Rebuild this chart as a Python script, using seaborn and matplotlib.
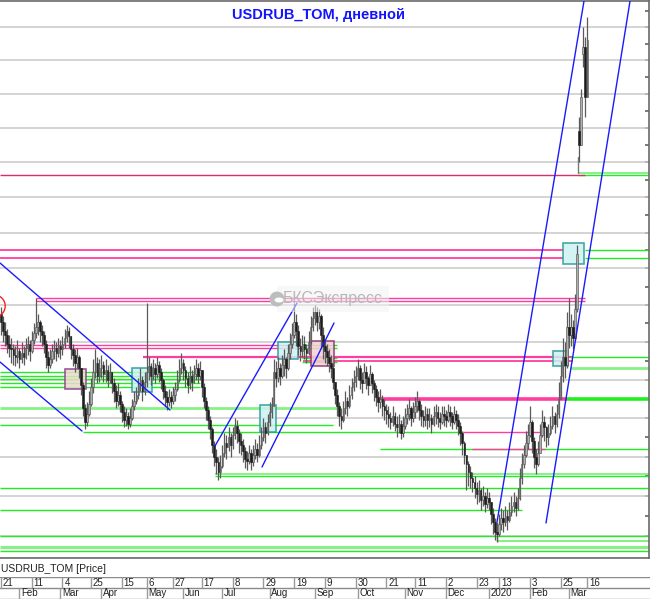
import numpy as np
import pandas as pd
import matplotlib
matplotlib.use("Agg")
import matplotlib.pyplot as plt
from matplotlib.patches import Rectangle, Ellipse
import seaborn as sns

sns.set_theme(style="white")
plt.rcParams['font.family'] = ['Liberation Sans', 'DejaVu Sans']

# ---------------- data ----------------
holidays = ["2019-03-08", "2019-05-01", "2019-05-02", "2019-05-03", "2019-05-09", "2019-05-10",
            "2019-06-12", "2019-11-04", "2019-12-31", "2020-01-01", "2020-01-02", "2020-01-07",
            "2020-02-24", "2020-03-09"]

close = [66.55, 66.30, 66.20, 65.95, 65.85, 65.80, 65.65, 65.60, 65.75, 65.55,
         65.70, 65.60, 65.85, 65.95, 65.75, 66.05, 66.25, 66.40, 66.55, 66.30,
         66.20, 65.95, 65.60, 65.40, 65.55, 65.75, 65.85, 65.70, 65.90, 65.80,
         65.95, 66.10, 66.30, 66.15, 65.80, 65.65, 65.45, 65.60, 65.30,
         64.85, 64.25, 63.90, 64.10, 64.35, 64.80, 65.20, 65.45, 65.10, 65.30,
         65.40, 65.15, 65.25, 65.00, 65.20, 64.90, 64.70, 64.45, 64.60, 64.35,
         64.15, 63.95, 64.05, 63.85, 64.00, 64.30, 64.45, 64.60, 64.85, 65.00,
         64.70, 64.95, 65.20, 65.35, 65.10,
         65.30, 65.15, 65.40, 65.20, 65.00, 64.70, 64.55, 64.40, 64.55, 64.45,
         64.60, 64.75, 65.00, 65.30, 65.45, 65.25, 65.05, 64.85, 65.10, 64.95,
         65.15, 65.30, 65.10, 65.25, 64.80, 64.45, 64.20, 63.95, 63.70,
         63.30, 63.00, 62.85, 62.60, 62.75, 63.10, 63.35, 63.25, 63.50, 63.30,
         63.55, 63.80, 63.60, 63.40, 63.30, 63.15, 62.95, 62.90, 63.10, 62.85,
         63.05, 63.20, 63.05, 63.30, 63.50, 63.75, 63.60, 63.90, 64.15, 64.30,
         65.20, 65.05, 65.30, 65.10, 65.40, 65.55, 65.30, 65.70, 65.95, 66.20,
         66.55, 66.30, 65.90, 65.75, 65.95, 65.80, 65.70, 66.00, 66.40, 66.65,
         66.80, 66.55, 66.70, 66.20, 65.90, 65.75, 65.60, 65.45, 65.30, 64.95,
         64.60, 64.30, 64.05, 63.95, 64.25, 64.45, 64.30, 64.60, 64.80, 64.95,
         65.10, 65.30, 65.00, 64.90, 65.20, 65.05, 64.85, 65.15, 64.90, 64.75,
         64.55, 64.40, 64.50, 64.30, 64.20, 64.10, 64.00, 63.90, 64.05, 63.85,
         63.75, 63.85, 63.60, 63.80, 64.00, 64.10, 64.25, 64.00, 64.15,
         64.30, 64.45, 64.20, 64.05, 63.95, 64.10, 63.95, 64.00, 63.85, 64.05,
         64.15, 64.00, 63.90, 64.10, 64.05, 63.95, 64.15, 64.05, 63.90, 64.10,
         63.95, 63.80, 63.60, 63.35, 63.05, 62.80, 62.60, 62.45, 62.35, 62.20,
         62.05, 62.15, 61.90, 62.00, 61.80, 61.95, 61.85, 61.55, 61.35, 61.10, 61.05,
         61.30, 61.45, 61.35, 61.50, 61.40, 61.60, 61.75, 61.85, 61.70, 61.95,
         62.45, 62.80, 63.05, 63.35, 63.55, 63.90, 63.40, 63.00, 62.80, 63.10,
         63.55, 63.90, 63.75, 63.50, 63.60, 63.80, 64.05, 63.85, 64.10, 64.50,
         65.10, 65.60, 65.40, 66.40, 66.20, 66.40, 66.10, 66.90, 68.40,
         71.50, 72.90, 74.40, 72.90, 74.60]

high = [66.95, 66.70, 66.55, 66.35, 66.20, 66.10, 65.95, 65.90, 66.05, 65.85,
        66.00, 65.90, 66.10, 66.15, 66.05, 66.30, 66.50, 67.20, 66.75, 66.60,
        66.45, 66.30, 66.05, 65.75, 65.80, 65.95, 66.05, 66.00, 66.10, 66.05,
        66.15, 66.35, 66.45, 66.40, 66.10, 65.95, 65.80, 65.85, 65.65,
        65.15, 64.95, 64.35, 64.40, 64.70, 65.05, 65.55, 65.80, 65.60, 65.55,
        65.65, 65.50, 65.55, 65.40, 65.45, 65.20, 65.05, 64.85, 64.90, 64.70,
        64.45, 64.30, 64.25, 64.15, 64.25, 64.50, 64.70, 64.80, 65.05, 65.30,
        65.10, 65.20, 67.05, 65.60, 65.45,
        65.55, 65.45, 65.60, 65.50, 65.30, 65.05, 64.85, 64.70, 64.75, 64.70,
        64.80, 64.95, 65.25, 65.55, 65.70, 65.55, 65.35, 65.20, 65.35, 65.25,
        65.40, 65.55, 65.45, 65.50, 65.20, 64.90, 64.55, 64.30, 64.05,
        63.75, 63.40, 63.20, 63.00, 63.05, 63.30, 63.60, 63.55, 63.75, 63.60,
        63.75, 64.00, 63.95, 63.70, 63.60, 63.45, 63.25, 63.15, 63.30, 63.20,
        63.30, 63.45, 63.35, 63.55, 63.75, 64.00, 63.90, 64.10, 64.40, 64.55,
        65.55, 65.50, 65.60, 65.45, 65.65, 65.80, 65.60, 65.95, 66.25, 66.50,
        67.05, 66.75, 66.45, 66.10, 66.20, 66.15, 65.95, 66.30, 66.70, 66.95,
        67.00, 66.95, 66.90, 66.75, 66.40, 66.05, 65.95, 65.80, 65.65, 65.45,
        64.95, 64.75, 64.40, 64.25, 64.45, 64.70, 64.55, 64.85, 65.05, 65.25,
        65.35, 65.55, 65.40, 65.20, 65.45, 65.35, 65.10, 65.40, 65.20, 65.00,
        64.85, 64.70, 64.75, 64.60, 64.50, 64.35, 64.30, 64.15, 64.30, 64.15,
        64.05, 64.10, 63.95, 64.05, 64.25, 64.35, 64.50, 64.30, 64.40,
        64.55, 64.70, 64.50, 64.35, 64.20, 64.30, 64.25, 64.25, 64.10, 64.30,
        64.35, 64.30, 64.15, 64.30, 64.30, 64.20, 64.35, 64.30, 64.15, 64.30,
        64.20, 64.10, 63.90, 63.65, 63.40, 63.05, 62.90, 62.75, 62.60, 62.50,
        62.35, 62.40, 62.20, 62.25, 62.10, 62.20, 62.10, 61.85, 61.70, 61.45, 61.35,
        61.55, 61.70, 61.65, 61.75, 61.65, 61.85, 62.00, 62.10, 62.00, 62.20,
        62.70, 63.10, 63.30, 63.65, 63.85, 64.30, 63.95, 63.50, 63.20, 63.40,
        63.85, 64.20, 64.05, 63.80, 63.85, 64.05, 64.30, 64.15, 64.35, 64.95,
        65.50, 66.10, 66.00, 66.80, 67.20, 66.75, 66.60, 67.30, 68.65,
        72.30, 73.15, 75.00, 74.70, 75.30]

low = [66.20, 66.00, 65.90, 65.70, 65.60, 65.45, 65.40, 65.35, 65.45, 65.30,
       65.45, 65.40, 65.55, 65.65, 65.50, 65.70, 65.95, 66.10, 66.20, 66.00,
       65.90, 65.70, 65.30, 65.20, 65.30, 65.45, 65.55, 65.50, 65.60, 65.55,
       65.65, 65.85, 66.00, 65.85, 65.55, 65.35, 65.20, 65.30, 65.05,
       64.60, 64.05, 63.70, 63.80, 64.05, 64.30, 64.65, 65.05, 64.90, 64.95,
       65.05, 64.95, 64.95, 64.80, 64.90, 64.65, 64.40, 64.25, 64.30, 64.15,
       63.90, 63.75, 63.80, 63.70, 63.75, 63.95, 64.20, 64.35, 64.50, 64.70,
       64.45, 64.60, 64.80, 65.00, 64.85,
       65.00, 64.90, 65.05, 64.95, 64.75, 64.50, 64.30, 64.20, 64.30, 64.25,
       64.35, 64.45, 64.70, 64.95, 65.15, 65.00, 64.80, 64.65, 64.75, 64.70,
       64.90, 65.00, 64.90, 65.00, 64.55, 64.25, 63.95, 63.70, 63.45,
       63.10, 62.75, 62.55, 62.40, 62.45, 62.70, 63.00, 62.95, 63.15, 63.00,
       63.20, 63.45, 63.35, 63.10, 63.05, 62.85, 62.70, 62.65, 62.80, 62.65,
       62.75, 62.95, 62.85, 63.00, 63.20, 63.40, 63.35, 63.55, 63.80, 64.00,
       64.60, 64.80, 64.95, 64.85, 65.05, 65.10, 65.05, 65.25, 65.55, 65.85,
       66.10, 65.90, 65.65, 65.50, 65.60, 65.55, 65.45, 65.65, 65.95, 66.30,
       66.45, 66.30, 66.35, 65.85, 65.55, 65.45, 65.35, 65.20, 65.05, 64.75,
       64.35, 64.05, 63.80, 63.70, 63.90, 64.10, 64.05, 64.25, 64.50, 64.70,
       64.80, 65.00, 64.75, 64.65, 64.90, 64.75, 64.60, 64.85, 64.65, 64.45,
       64.30, 64.15, 64.25, 64.05, 63.95, 63.85, 63.75, 63.70, 63.80, 63.65,
       63.50, 63.60, 63.45, 63.50, 63.70, 63.85, 63.95, 63.80, 63.90,
       64.00, 64.15, 63.95, 63.80, 63.75, 63.80, 63.70, 63.75, 63.60, 63.80,
       63.85, 63.75, 63.70, 63.85, 63.80, 63.75, 63.90, 63.80, 63.70, 63.85,
       63.70, 63.55, 63.30, 63.05, 62.80, 62.15, 62.25, 62.20, 62.10, 61.95,
       61.80, 61.85, 61.65, 61.75, 61.60, 61.70, 61.65, 61.30, 61.05, 60.90, 60.85,
       61.00, 61.15, 61.10, 61.25, 61.15, 61.35, 61.50, 61.60, 61.50, 61.65,
       61.90, 62.30, 62.70, 63.00, 63.20, 63.50, 63.10, 62.70, 62.55, 62.75,
       63.10, 63.50, 63.40, 63.25, 63.30, 63.55, 63.70, 63.60, 63.75, 64.00,
       64.60, 64.95, 65.05, 65.30, 65.85, 65.90, 65.80, 66.05, 66.80,
       71.00, 71.90, 73.80, 72.30, 73.40]

first_open = 66.75
gap_opens = {"2020-03-10": 71.90, "2020-03-12": 74.20}

day_tick_dates = ["2019-01-21", "2019-02-11", "2019-03-04", "2019-03-25", "2019-04-15", "2019-05-06",
                  "2019-05-27", "2019-06-17", "2019-07-08", "2019-07-29", "2019-08-19", "2019-09-09",
                  "2019-09-30", "2019-10-21", "2019-11-11", "2019-12-02", "2019-12-23", "2020-01-13",
                  "2020-02-03", "2020-02-25", "2020-03-16"]
month_labels = ["Feb", "Mar", "Apr", "May", "Jun", "Jul", "Aug", "Sep", "Oct", "Nov", "Dec",
                "2020", "Feb", "Mar"]
month_keys = ["2019-02", "2019-03", "2019-04", "2019-05", "2019-06", "2019-07", "2019-08",
              "2019-09", "2019-10", "2019-11", "2019-12", "2020-01", "2020-02", "2020-03"]

# ---------------- calendar ----------------
days = [d for d in pd.bdate_range("2019-01-21", "2020-03-16") if d.strftime("%Y-%m-%d") not in holidays]
n = min(len(days), len(close), len(high), len(low))
days = days[:n]
dstr = [d.strftime("%Y-%m-%d") for d in days]
idx_of = {s: i for i, s in enumerate(dstr)}

opens = [first_open] + close[:n - 1]
for k, v in gap_opens.items():
    if k in idx_of:
        opens[idx_of[k]] = v
df = pd.DataFrame({"i": np.arange(n), "open": opens[:n], "high": high[:n], "low": low[:n], "close": close[:n]})
df["high"] = df[["high", "open", "close"]].max(axis=1)
df["low"] = df[["low", "open", "close"]].min(axis=1)

# pixel helpers for annotations (chart pixels -> data)
def px2i(x):
    return (x - 1.0) / 2.05

def px2p(y):
    return 62.0 * np.exp((496.0 - y) / 2463.0)

# ---------------- figure ----------------
fig = plt.figure(figsize=(6.5, 6.0), dpi=100)
fig.patch.set_facecolor("white")
ax = fig.add_axes([0.0, 1 - 558 / 600, 649 / 650, 557 / 600])
ax.set_facecolor("white")
ax.set_yscale("log")
ax.set_xlim(px2i(0), px2i(649))
ax.set_ylim(px2p(558), px2p(1))

# gridlines
for g in range(61, 76):
    ax.axhline(g, color="#c9c9c9", lw=1.1, zorder=1)

GREEN = "#1fef1f"
LGREEN = "#86f286"
PINK = "#ff3d9e"
DPINK = "#d8306e"

levels = [
    (173, 578, 649, LGREEN, 1.4), (175, 578, 649, GREEN, 1.0), (175, 0, 585, DPINK, 1.0),
    (250, 0, 563, PINK, 1.3), (258, 0, 563, PINK, 1.3), (250, 585, 649, GREEN, 1.0), (258, 585, 649, GREEN, 1.0),
    (298, 36, 585, PINK, 1.0), (300.5, 36, 585, PINK, 1.0),
    (345, 0, 300, PINK, 1.0), (347.5, 0, 300, PINK, 1.0),
    (344.5, 302, 337, GREEN, 1.0), (347.5, 302, 337, GREEN, 1.0),
    (357, 143, 573, PINK, 1.6), (361, 303, 573, PINK, 1.3),
    (357.5, 302, 337, GREEN, 1.0), (362, 302, 337, GREEN, 1.0),
    (357, 570, 649, GREEN, 1.0), (368, 570, 649, LGREEN, 2.0),
    (372, 0, 200, GREEN, 1.0), (375.5, 0, 200, GREEN, 1.0), (379, 0, 200, GREEN, 1.0),
    (383, 0, 200, GREEN, 1.0), (386.5, 0, 200, GREEN, 1.0),
    (399, 380, 567, PINK, 2.6), (399, 567, 649, GREEN, 2.6),
    (408, 0, 340, LGREEN, 2.0), (425, 0, 333, GREEN, 1.0),
    (432, 83, 463, GREEN, 1.0), (432, 463, 540, PINK, 1.0),
    (449, 380, 649, GREEN, 1.0), (449, 472, 545, PINK, 1.0),
    (474, 215, 649, LGREEN, 1.4), (476, 215, 649, GREEN, 1.0),
    (488, 0, 649, GREEN, 1.0), (510, 0, 522, GREEN, 1.0),
    (536, 0, 649, GREEN, 1.0), (541, 497, 649, LGREEN, 1.5),
    (547, 0, 649, LGREEN, 2.2), (551, 0, 649, GREEN, 1.0),
]
for y, x0, x1, col, lw in levels:
    ax.plot([px2i(x0), px2i(x1)], [px2p(y), px2p(y)], color=col, lw=lw, zorder=2,
            solid_capstyle="butt")

# bracket verticals
ax.plot([px2i(578), px2i(578)], [px2p(157), px2p(173)], color="#777777", lw=1.0, zorder=2)
ax.plot([px2i(497), px2i(497)], [px2p(535), px2p(541)], color="#777777", lw=1.0, zorder=2)

# boxes (x0, x1, ytop, ybottom, face, edge)
boxes = [
    (65, 86, 369, 389, "#e9dccb", "#8e3c8e"),
    (132, 152, 368, 392, "#cdf1f1", "#2a9a9a"),
    (260, 276, 405, 432, "#cdf1f1", "#2a9a9a"),
    (278, 298, 342, 359, "#cdf1f1", "#2a9a9a"),
    (311, 334, 341, 366, "#f5cfd7", "#8e3070"),
    (553, 568, 351, 366, "#cdf1f1", "#2a9a9a"),
    (563, 584, 243, 264, "#cdf1f1", "#2a9a9a"),
]
for x0, x1, yt, yb, fc, ec in boxes:
    ax.add_patch(Rectangle((px2i(x0), px2p(yb)), px2i(x1) - px2i(x0), px2p(yt) - px2p(yb),
                           facecolor=fc, edgecolor=ec, lw=1.2, alpha=0.85, zorder=3))

# candles
up = df["close"] >= df["open"]
ax.vlines(df["i"], df["low"], df["high"], color="#5a5a5a", lw=0.9, zorder=4)
body_bottom = df[["open", "close"]].min(axis=1)
body_h = (df["close"] - df["open"]).abs().clip(lower=0.03)
ax.bar(df["i"][up], body_h[up], bottom=body_bottom[up], width=0.75, color="#b0b0b0",
       edgecolor="#4a4a4a", linewidth=0.4, zorder=5)
ax.bar(df["i"][~up], body_h[~up], bottom=body_bottom[~up], width=0.75, color="#1c1c1c",
       edgecolor="#1c1c1c", linewidth=0.4, zorder=5)

# trend lines (blue)
trend = [((0, 263), (170, 410)), ((0, 362), (82, 431)), ((215, 446), (297, 303)),
         ((262, 467), (334, 323)), ((497, 522), (585, -5)), ((546, 523), (631, -5))]
for (xa, ya), (xb, yb) in trend:
    ax.plot([px2i(xa), px2i(xb)], [px2p(ya), px2p(yb)], color="#1a1aff", lw=1.0, zorder=6)

# red circle marker at left edge
sns.scatterplot(x=[px2i(-6)], y=[px2p(306)], ax=ax, s=260, facecolor="none",
                edgecolor="#ff2020", linewidth=1.0, zorder=6, legend=False)

# spines & ticks
for s in ["top", "right", "bottom"]:
    ax.spines[s].set_color("#6a6a6a")
    ax.spines[s].set_linewidth(1.2)
ax.spines["left"].set_visible(False)
ax.set_xticks([])
ax.set_yticks(np.arange(61, 76, 0.5))
ax.yaxis.set_minor_locator(matplotlib.ticker.NullLocator())
ax.tick_params(axis="y", which="both", direction="in", length=3, color="#6a6a6a",
               left=False, right=True, labelleft=False, labelright=False)

# watermark
fig.text(333 / 650, 1 - 299 / 600, "БКСЭкспресс", color="#b8b8b8", fontsize=11.5,
         ha="center", va="center", zorder=10,
         bbox=dict(boxstyle="square,pad=0.35", facecolor="#f3f3f3", edgecolor="none", alpha=0.55))
fig.add_artist(Ellipse((277 / 650, 1 - 299 / 600), 15 / 650, 15 / 600, facecolor="#bdbdbd",
                       edgecolor="none", zorder=11))
fig.add_artist(Ellipse((279 / 650, 1 - 300 / 600), 9 / 650, 5 / 600, facecolor="white",
                       edgecolor="none", zorder=12))

# title
fig.text(318 / 650, 1 - 15 / 600, "USDRUB_TOM, дневной", color="#1414ff", fontsize=10.5,
         fontweight="bold", ha="center", va="center")

# series label
fig.text(1 / 650, 1 - 569 / 600, "USDRUB_TOM [Price]", color="#222222", fontsize=7.5,
         ha="left", va="center")

# date strip
ax2 = fig.add_axes([0.0, 1 - 599 / 600, 1.0, 22 / 600])
ax2.set_xlim(px2i(0), px2i(650))
ax2.set_ylim(0, 2)
ax2.axis("off")
for yy in [0.03, 1, 1.97]:
    ax2.axhline(yy, color="#8a8a8a", lw=1.0)
for d in day_tick_dates:
    if d in idx_of:
        i = idx_of[d]
        ax2.vlines(i, 1, 2, color="#9a9a9a", lw=1.0)
        ax2.text(i + 0.9, 1.5, str(int(d[-2:])), fontsize=7, color="#222222", va="center", ha="left")
for lab, mk in zip(month_labels, month_keys):
    cand = [s for s in dstr if s.startswith(mk)]
    if cand:
        i = idx_of[cand[0]]
        ax2.vlines(i, 0, 1, color="#9a9a9a", lw=1.0)
        ax2.text(i + 0.9, 0.5, lab, fontsize=7, color="#222222", va="center", ha="left")

fig.savefig("out.png", dpi=100, facecolor="white")
